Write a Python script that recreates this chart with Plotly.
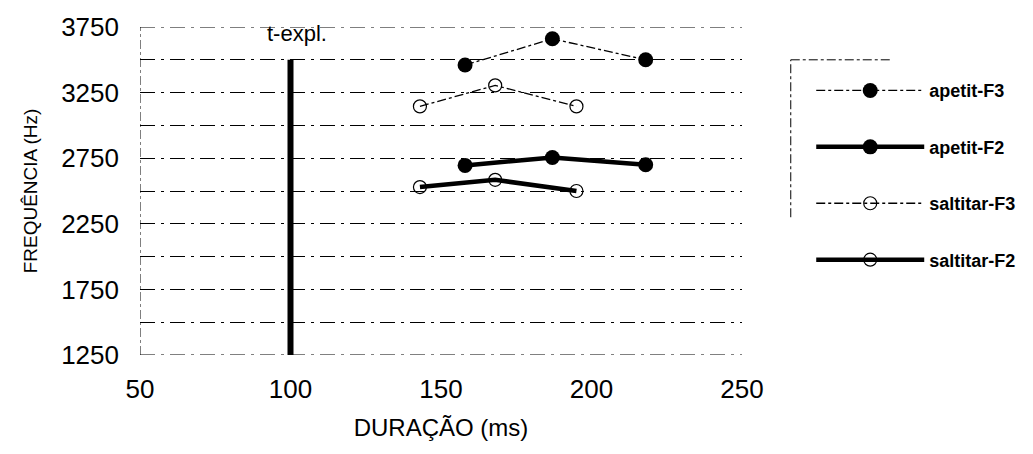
import plotly.graph_objects as go

# ---- data ----
apetit_dur = [158, 187, 218]
apetit_f3 = [3460, 3660, 3500]
apetit_f2 = [2695, 2755, 2700]

saltitar_dur = [143, 168, 195]
saltitar_f3 = [3145, 3305, 3145]
saltitar_f2 = [2530, 2585, 2500]

t_expl_x = [100, 100]
t_expl_y = [1250, 3500]

y_ticks = [1250, 1750, 2250, 2750, 3250, 3750]
x_ticks = [50, 100, 150, 200, 250]

FONT = "Liberation Sans, Arial, sans-serif"

fig = go.Figure()

fig.add_trace(go.Scatter(
    x=t_expl_x, y=t_expl_y, mode="lines",
    line=dict(color="black", width=6), showlegend=False, hoverinfo="skip"))

fig.add_trace(go.Scatter(
    x=apetit_dur, y=apetit_f3, name="<b>apetit-F3</b>", mode="lines+markers",
    line=dict(color="black", width=1.3, dash="dashdot"),
    marker=dict(symbol="circle", size=15, color="black"),
    legendgroup="a3"))
fig.add_trace(go.Scatter(
    x=apetit_dur, y=apetit_f2, name="<b>apetit-F2</b>", mode="lines+markers",
    line=dict(color="black", width=4.5),
    marker=dict(symbol="circle", size=15, color="black"),
    legendgroup="a2"))
fig.add_trace(go.Scatter(
    x=saltitar_dur, y=saltitar_f3, name="<b>saltitar-F3</b>", mode="lines+markers",
    line=dict(color="black", width=1.3, dash="dashdot"),
    marker=dict(symbol="circle-open", size=13, color="black", line=dict(width=1.2)),
    legendgroup="s3"))
fig.add_trace(go.Scatter(
    x=saltitar_dur, y=saltitar_f2, name="<b>saltitar-F2</b>", mode="lines+markers",
    line=dict(color="black", width=4.5),
    marker=dict(symbol="circle-open", size=13, color="black", line=dict(width=1.2)),
    legendgroup="s2"))

fig.add_annotation(x=102, y=3700, text="t-expl.", showarrow=False,
                   font=dict(family=FONT, size=22, color="black"))

grid_style = dict(color="black", width=1, dash="longdashdot")
# gridlines on the range edges (1250 and 3750)
for yv in (y_ticks[0], y_ticks[-1]):
    fig.add_shape(type="line", xref="x", yref="y", x0=50, x1=250, y0=yv, y1=yv,
                  line=grid_style, layer="below")

# left axis (dashed) and partial legend frame
fig.add_shape(type="line", xref="x", yref="y", x0=50, x1=50, y0=1250, y1=3750,
              line=dict(color="black", width=1, dash="dashdot"))
fig.add_shape(type="line", xref="paper", yref="paper", x0=1.081, x1=1.081, y0=0.42, y1=0.9,
              line=dict(color="black", width=1, dash="dashdot"))
fig.add_shape(type="line", xref="paper", yref="paper", x0=1.081, x1=1.25, y0=0.9, y1=0.9,
              line=dict(color="black", width=1, dash="dashdot"))

fig.update_layout(
    width=1033, height=454,
    margin=dict(l=140, r=291, t=25, b=99),
    paper_bgcolor="white", plot_bgcolor="white",
    font=dict(family=FONT, color="black"),
    showlegend=True,
    legend=dict(x=1.115, y=0.862, xanchor="left", yanchor="top",
                font=dict(family=FONT, size=18, color="black"),
                bgcolor="rgba(0,0,0,0)", tracegroupgap=30,
                traceorder="grouped", itemwidth=108),
    xaxis=dict(range=[50, 250], tickvals=x_ticks, ticktext=[str(v) for v in x_ticks],
               showgrid=False, zeroline=False, showline=False, ticks="",
               tickfont=dict(family=FONT, size=26, color="black"), ticklabelstandoff=16,
               title=dict(text="DURAÇÃO (ms)", font=dict(family=FONT, size=24, color="black"),
                          standoff=16)),
    yaxis=dict(range=[1250, 3750], tickvals=y_ticks, ticktext=[str(v) for v in y_ticks],
               showgrid=True, gridcolor="black", gridwidth=1, griddash="longdashdot",
               minor=dict(dtick=250, tick0=1250, showgrid=True, gridcolor="black",
                          gridwidth=1, griddash="longdashdot"),
               zeroline=False, showline=False, ticks="",
               tickfont=dict(family=FONT, size=26, color="black"), ticklabelstandoff=20,
               title=dict(text="FREQUÊNCIA (Hz)", font=dict(family=FONT, size=19, color="black"),
                          standoff=18)),
)

fig.write_html("out.html")
